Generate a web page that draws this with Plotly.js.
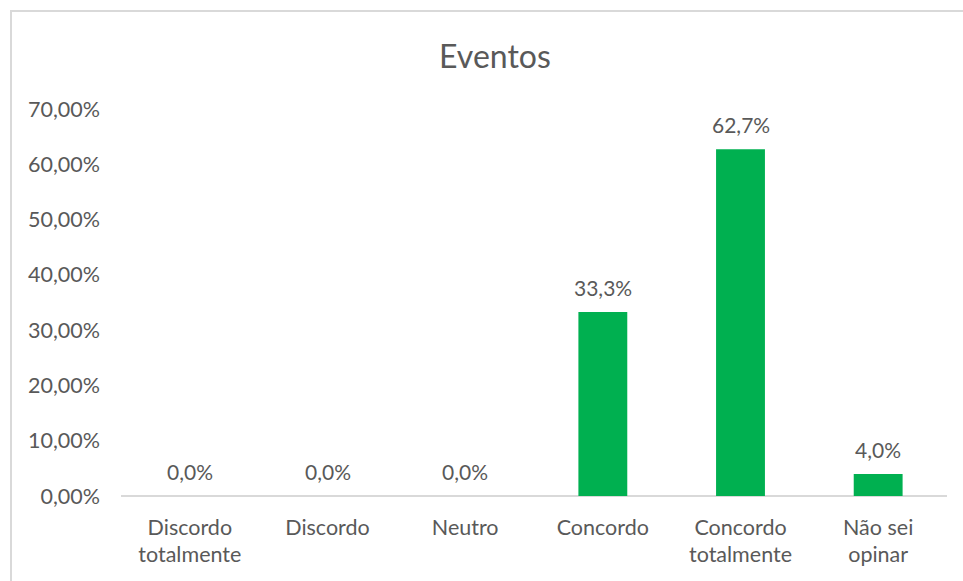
<!DOCTYPE html>
<html>
<head>
<meta charset="utf-8">
<script src="https://cdn.plot.ly/plotly-3.0.1.min.js"></script>
<style>
html,body{margin:0;padding:0;background:#fff;}
#chart{width:963px;height:581px;}
#frame{position:absolute;left:10px;top:10px;width:1000px;height:600px;border:2px solid #d9d9d9;pointer-events:none;box-sizing:border-box;}
</style>
</head>
<body>
<div id="chart"></div>
<div id="frame"></div>
<script>
const categories = ["Discordo<br>totalmente", "Discordo", "Neutro", "Concordo", "Concordo<br>totalmente", "Não sei<br>opinar"];
const values = [0, 0, 0, 0.333, 0.627, 0.04];
const yTicks = [0, 0.1, 0.2, 0.3, 0.4, 0.5, 0.6, 0.7];
const chartTitle = "Eventos";

const font = "Lato, 'Open Sans', sans-serif";
const grey = "#595959";

const labels = categories.map((c, i) => ({
  x: c, y: values[i], xref: "x", yref: "y",
  text: (values[i] * 100).toFixed(1).replace(".", ",") + "%",
  showarrow: false, yanchor: "bottom", xanchor: "center",
  yshift: 10,
  font: {family: font, size: 21, color: grey}
}));

Plotly.newPlot("chart", [{
  type: "bar",
  x: categories,
  y: values,
  marker: {color: "#00b050"},
  width: 0.355,
  hoverinfo: "none"
}], {
  width: 963,
  height: 581,
  margin: {l: 121, r: 16, t: 109, b: 85},
  paper_bgcolor: "#fff",
  plot_bgcolor: "#fff",
  separators: ",.",
  showlegend: false,
  annotations: labels,
  title: {
    text: chartTitle,
    font: {family: font, size: 32, color: grey},
    x: 0.514, xref: "container", xanchor: "center",
    y: 0.903, yref: "container", yanchor: "middle"
  },
  xaxis: {
    showgrid: false,
    showline: false,
    zeroline: false,
    ticks: "",
    ticklabelstandoff: 16,
    tickfont: {family: font, size: 21.5, color: grey},
    fixedrange: true
  },
  yaxis: {
    range: [0, 0.7],
    tickvals: yTicks,
    tickformat: ".2%",
    showgrid: false,
    zeroline: true,
    zerolinecolor: "#d9d9d9",
    zerolinewidth: 1.5,
    showline: false,
    ticks: "",
    ticklabelstandoff: 20,
    tickfont: {family: font, size: 21.5, color: grey},
    fixedrange: true
  }
}, {displayModeBar: false, staticPlot: true});
</script>
</body>
</html>
